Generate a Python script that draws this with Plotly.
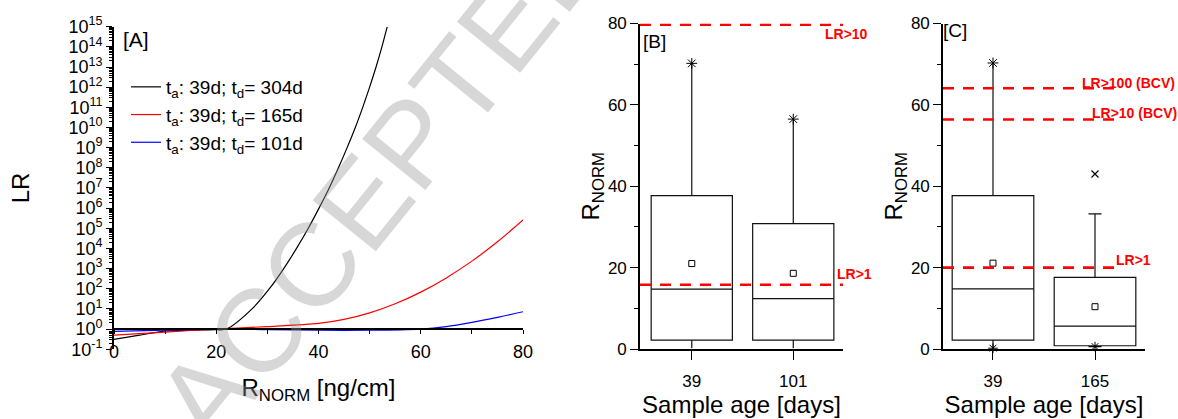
import plotly.graph_objects as go

FONT = "Liberation Sans"

# ---------------- Panel A data (LR curves) ----------------
x_304 = [0, 5, 10, 15, 20, 22, 27.0, 30.4, 33.2, 35.7, 38.0, 40.1, 42.1, 43.9, 45.6, 47.2,
         48.65, 50.0, 51.25, 52.4, 53.45]
lr_304 = [0.31, 0.5, 0.79, 0.89, 0.92, 1.0, 1e1, 1e2, 1e3, 1e4, 1e5, 1e6, 1e7, 1e8, 1e9,
          1e10, 1e11, 1e12, 1e13, 1e14, 1e15]
x_165 = [0, 10, 20, 30, 40, 45, 50, 55, 60, 65, 70, 75, 80]
lr_165 = [0.5, 0.71, 1.0, 1.32, 1.9, 3.0, 6.3, 17.9, 68, 345, 2.34e3, 2.14e4, 2.6e5]
x_101 = [0, 10, 20, 30, 40, 50, 60, 65, 70, 75, 80]
lr_101 = [0.76, 0.89, 1.0, 0.93, 0.87, 0.87, 1.0, 1.32, 2.14, 3.8, 7.2]
legend_names = ["t<sub>a</sub>: 39d; t<sub>d</sub>= 304d",
                "t<sub>a</sub>: 39d; t<sub>d</sub>= 165d",
                "t<sub>a</sub>: 39d; t<sub>d</sub>= 101d"]
log_exponents = list(range(-1, 16))
x_ticks_a = [0, 20, 40, 60, 80]

# ---------------- Panel B data (box stats) ----------------
cats_b = ["39", "101"]
q1_b = [2.2, 2.2]
med_b = [14.7, 12.4]
q3_b = [37.7, 30.8]
low_b = [0.2, 0.2]
up_b = [70.2, 56.5]
mean_b = [21.0, 18.6]
thr_b = [79.7, 15.8]
thr_b_labels = ["LR>10", "LR>1"]

# ---------------- Panel C data (box stats) ----------------
cats_c = ["39", "165"]
q1_c = [2.2, 0.8]
med_c = [14.8, 5.6]
q3_c = [37.7, 17.6]
low_c = [0.2, 0.6]
up_c = [70.3, 33.2]
mean_c = [21.1, 10.4]
max_c = [70.3]
min_c = [0.2, 0.6]
outlier_c = [43.0]
thr_c = [64.1, 56.4, 20.0]
thr_c_labels = ["LR>100 (BCV)", "LR>10 (BCV)", "LR>1"]

W, H = 1178, 419
def px(xp):
    return xp / W
def py(yp):
    return 1 - yp / H

fig = go.Figure()

# Panel A curves
for xs, ys, col, nm in [(x_304, lr_304, "black", legend_names[0]),
                        (x_165, lr_165, "red", legend_names[1]),
                        (x_101, lr_101, "blue", legend_names[2])]:
    fig.add_trace(go.Scatter(x=xs, y=ys, mode="lines", name=nm,
                             line=dict(color=col, width=1.2, shape="spline", smoothing=0.8),
                             xaxis="x", yaxis="y"))
# dummy trace so that the overlay axis drawn at LR=1 exists
fig.add_trace(go.Scatter(x=[None], y=[None], xaxis="x4", yaxis="y",
                         showlegend=False, hoverinfo="skip"))

box_line = dict(color="#111", width=1.2)
# Panel B boxes
fig.add_trace(go.Box(x=cats_b, q1=q1_b, median=med_b, q3=q3_b, lowerfence=low_b,
                     upperfence=up_b, width=0.8, whiskerwidth=0, boxpoints=False,
                     fillcolor="rgba(0,0,0,0)", line=box_line,
                     xaxis="x2", yaxis="y2", showlegend=False))
fig.add_trace(go.Scatter(x=cats_b, y=mean_b, mode="markers", xaxis="x2", yaxis="y2",
                         marker=dict(symbol="square-open", size=6, color="black",
                                     line=dict(width=1)), showlegend=False))
fig.add_trace(go.Scatter(x=cats_b, y=up_b, mode="markers", xaxis="x2", yaxis="y2",
                         marker=dict(symbol="asterisk-open", size=9, color="black",
                                     line=dict(width=1)), showlegend=False))

# Panel C boxes
fig.add_trace(go.Box(x=cats_c[:1], q1=q1_c[:1], median=med_c[:1], q3=q3_c[:1],
                     lowerfence=low_c[:1], upperfence=up_c[:1], width=0.8, whiskerwidth=0,
                     boxpoints=False, fillcolor="rgba(0,0,0,0)", line=box_line,
                     xaxis="x3", yaxis="y3", showlegend=False))
fig.add_trace(go.Box(x=cats_c[1:], q1=q1_c[1:], median=med_c[1:], q3=q3_c[1:],
                     lowerfence=low_c[1:], upperfence=up_c[1:], width=0.8, whiskerwidth=0.16,
                     boxpoints=False, fillcolor="rgba(0,0,0,0)", line=box_line,
                     xaxis="x3", yaxis="y3", showlegend=False))
fig.add_trace(go.Scatter(x=cats_c, y=mean_c, mode="markers", xaxis="x3", yaxis="y3",
                         marker=dict(symbol="square-open", size=6, color="black",
                                     line=dict(width=1)), showlegend=False))
fig.add_trace(go.Scatter(x=cats_c[:1], y=max_c, mode="markers", xaxis="x3", yaxis="y3",
                         marker=dict(symbol="asterisk-open", size=9, color="black",
                                     line=dict(width=1)), showlegend=False, cliponaxis=False))
fig.add_trace(go.Scatter(x=cats_c, y=min_c, mode="markers", xaxis="x3", yaxis="y3",
                         marker=dict(symbol="asterisk-open", size=8, color="black",
                                     line=dict(width=1)), showlegend=False, cliponaxis=False))
fig.add_trace(go.Scatter(x=cats_c[1:], y=outlier_c, mode="markers", xaxis="x3", yaxis="y3",
                         marker=dict(symbol="x-thin-open", size=7, color="black",
                                     line=dict(width=1.2)), showlegend=False))

# Threshold dashed lines
dash_line = dict(color="red", width=2.6, dash="11px,9px")
shapes = []
for v in thr_b:
    shapes.append(dict(type="line", xref="x2 domain", yref="y2", x0=0, x1=1, y0=v, y1=v,
                       line=dash_line, layer="above"))
c_ends = [0.87, 0.89, 0.86]
for v, e in zip(thr_c, c_ends):
    shapes.append(dict(type="line", xref="x3 domain", yref="y3", x0=0, x1=e, y0=v, y1=v,
                       line=dash_line, layer="above"))

ann = []
lab_font = dict(family=FONT, size=14, color="red")
ann_pos_b = [(846, 34.5), (854, 274)]
for t, (xp, yp) in zip(thr_b_labels, ann_pos_b):
    ann.append(dict(text="<b>%s</b>" % t, xref="paper", yref="paper", x=px(xp), y=py(yp),
                    showarrow=False, font=lab_font, xanchor="center", yanchor="middle"))
ann_pos_c = [(1128, 83), (1134, 113), (1133, 260)]
for t, (xp, yp) in zip(thr_c_labels, ann_pos_c):
    ann.append(dict(text="<b>%s</b>" % t, xref="paper", yref="paper", x=px(xp), y=py(yp),
                    showarrow=False, font=lab_font, xanchor="center", yanchor="middle"))

# panel labels
for t, (xp, yp), s in [("[A]", (136, 40), 21), ("[B]", (654, 41.5), 19), ("[C]", (955, 31), 19)]:
    ann.append(dict(text=t, xref="paper", yref="paper", x=px(xp), y=py(yp), showarrow=False,
                    xanchor="center", yanchor="middle",
                    font=dict(family=FONT, size=s, color="black")))

# watermark
ann.append(dict(text="ACCEPTED", xref="paper", yref="paper", x=px(383), y=py(177),
                xanchor="center", yanchor="middle",
                showarrow=False, textangle=-51,
                font=dict(family=FONT, size=118, color="rgba(150,150,150,0.38)")))

tick_font_a = dict(family=FONT, size=18, color="black")
tick_font_bc = dict(family=FONT, size=17, color="black")
title_font = dict(family=FONT, size=24, color="black")

ya_dom = [py(349.2), py(26.7)]
pos_one = ya_dom[0] + (ya_dom[1] - ya_dom[0]) * (1 / 16)

fig.update_layout(
    width=W, height=H, margin=dict(l=0, r=0, t=0, b=0, autoexpand=False),
    paper_bgcolor="white", plot_bgcolor="rgba(0,0,0,0)",
    font=dict(family=FONT, color="black"),
    boxmode="overlay",
    showlegend=True,
    legend=dict(x=px(126), y=py(68), xanchor="left", yanchor="top",
                bgcolor="rgba(0,0,0,0)", font=dict(family=FONT, size=19),
                tracegroupgap=0, itemwidth=30),
    xaxis=dict(domain=[px(114), px(523)], range=[0, 80], anchor="y", automargin=False,
               tickvals=x_ticks_a, showline=False, ticks="", showgrid=False,
               zeroline=False, tickfont=tick_font_a, ticklabelstandoff=-10,
               title=dict(text="R<sub>NORM</sub> [ng/cm]", font=title_font, standoff=17)),
    xaxis4=dict(domain=[px(114), px(523)], range=[0, 80], anchor="free", overlaying="x",
                position=pos_one, dtick=10, tick0=0, showticklabels=False, automargin=False,
                ticks="outside", ticklen=4, tickwidth=1.2, tickcolor="black",
                showline=True, linecolor="black", linewidth=1.8, showgrid=False,
                zeroline=False),
    yaxis=dict(domain=ya_dom, type="log", range=[-1, 15], anchor="x", automargin=False,
               tickvals=[10.0 ** e for e in log_exponents],
               ticktext=["10<sup>%d</sup>" % e for e in log_exponents],
               ticks="outside", ticklen=6, tickwidth=1.2, tickcolor="black",
               minor=dict(ticks="outside", ticklen=3, dtick="D1", tickcolor="black",
                          tickwidth=1, showgrid=False),
               showline=True, linecolor="black", linewidth=1.8, showgrid=False,
               zeroline=False, tickfont=tick_font_a,
               title=dict(text="LR", font=title_font, standoff=32)),
    xaxis2=dict(domain=[px(640), px(843)], type="category", range=[-0.51, 1.49],
                anchor="y2", automargin=False, ticks="outside", ticklen=9, tickwidth=1.2,
                tickcolor="black",
                showline=True, linecolor="black", linewidth=1.6, showgrid=False,
                tickfont=tick_font_bc, ticklabelstandoff=7,
                title=dict(text="Sample age [days]", font=title_font, standoff=0)),
    yaxis2=dict(domain=[py(349), py(23.5)], range=[0, 80], anchor="x2", dtick=20,
                automargin=False,
                ticks="outside", ticklen=8, tickwidth=1.2, tickcolor="black",
                minor=dict(dtick=10, ticks="outside", ticklen=4, tickcolor="black",
                           showgrid=False),
                showline=True, linecolor="black", linewidth=1.6, showgrid=False,
                zeroline=False, tickfont=tick_font_bc,
                title=dict(text="R<sub>NORM</sub>", font=title_font, standoff=0)),
    xaxis3=dict(domain=[px(943), px(1145)], type="category", range=[-0.49, 1.49],
                anchor="y3", automargin=False, ticks="outside", ticklen=9, tickwidth=1.2,
                tickcolor="black",
                showline=True, linecolor="black", linewidth=1.6, showgrid=False,
                tickfont=tick_font_bc, ticklabelstandoff=7,
                title=dict(text="Sample age [days]", font=title_font, standoff=0)),
    yaxis3=dict(domain=[py(349), py(23.5)], range=[0, 80], anchor="x3", dtick=20,
                automargin=False,
                ticks="outside", ticklen=8, tickwidth=1.2, tickcolor="black",
                minor=dict(dtick=10, ticks="outside", ticklen=4, tickcolor="black",
                           showgrid=False),
                showline=True, linecolor="black", linewidth=1.6, showgrid=False,
                zeroline=False, tickfont=tick_font_bc,
                title=dict(text="R<sub>NORM</sub>", font=title_font, standoff=0)),
    shapes=shapes,
    annotations=ann,
)

fig.write_html("out.html", config={"displayModeBar": False},
               post_script="document.body.style.margin='0px';")
